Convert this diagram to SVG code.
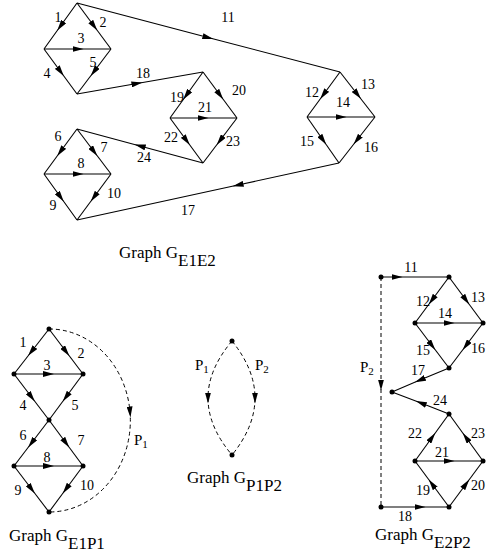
<svg xmlns="http://www.w3.org/2000/svg" width="486" height="554" viewBox="0 0 486 554">
<defs>
<marker id="ah" viewBox="0 0 11 6" refX="5.5" refY="3" markerWidth="11" markerHeight="6" markerUnits="userSpaceOnUse" orient="auto">
<path d="M0,0 L11,3 L0,6 z" fill="#000" stroke="none"/>
</marker>
<style>
.e{fill:none;stroke:#000;stroke-width:1.1;marker-mid:url(#ah)}
.d{fill:none;stroke:#000;stroke-width:1;stroke-dasharray:4,3;marker-mid:url(#ah)}
.l{font-family:"Liberation Serif","Times New Roman",serif;font-size:14px;fill:#000;text-anchor:middle}
.ls{font-family:"Liberation Serif","Times New Roman",serif;font-size:14px;fill:#000}
.p{font-family:"Liberation Serif","Times New Roman",serif;font-size:15px;fill:#000}
.t{font-family:"Liberation Serif","Times New Roman",serif;font-size:17px;fill:#000}
.n{fill:#000}
</style>
</defs>
<rect width="486" height="554" fill="#fff"/>

<!-- Graph G_E1E2 -->
<g id="connectors-e1e2">
<path class="e" d="M77,3 L60.5,26 L44,49"/>
<path class="e" d="M77,3 L94,26 L111,49"/>
<path class="e" d="M44,49 L78,49 L111,49"/>
<path class="e" d="M44,49 L60.5,71.5 L77,94"/>
<path class="e" d="M111,49 L94,71.5 L77,94"/>
<path class="e" d="M77,3 L208,37.5 L340,72"/>
<path class="e" d="M77,94 L137,83.5 L203,72"/>
<path class="e" d="M203,72 L186.5,95 L170,118"/>
<path class="e" d="M203,72 L220,95 L237,118"/>
<path class="e" d="M170,118 L203,118 L237,118"/>
<path class="e" d="M170,118 L186.5,140.5 L203,163"/>
<path class="e" d="M237,118 L220,140.5 L203,163"/>
<path class="e" d="M340,72 L323.5,94.5 L307,117"/>
<path class="e" d="M340,72 L357.5,94.5 L375,117"/>
<path class="e" d="M307,117 L341,117 L375,117"/>
<path class="e" d="M307,117 L323,140 L339,163"/>
<path class="e" d="M375,117 L357,140 L339,163"/>
<path class="e" d="M77,129 L60.5,151.5 L44,174"/>
<path class="e" d="M77,129 L94,151.5 L111,174"/>
<path class="e" d="M44,174 L78,174 L111,174"/>
<path class="e" d="M44,174 L60.5,197 L77,220"/>
<path class="e" d="M111,174 L94,197 L77,220"/>
<path class="e" d="M203,163 L140,146 L77,129"/>
<path class="e" d="M339,163 L238,185 L77,220"/>
</g>
<g id="labels-e1e2">
<text class="l" x="58" y="22">1</text>
<text class="l" x="103" y="27">2</text>
<text class="l" x="81" y="43">3</text>
<text class="l" x="47" y="78">4</text>
<text class="l" x="93" y="67">5</text>
<text class="l" x="143" y="78">18</text>
<text class="l" x="228" y="22">11</text>
<text class="l" x="177" y="102">19</text>
<text class="l" x="239" y="95">20</text>
<text class="l" x="205" y="112">21</text>
<text class="l" x="171" y="142">22</text>
<text class="l" x="233" y="146">23</text>
<text class="l" x="144" y="162">24</text>
<text class="l" x="312" y="97">12</text>
<text class="l" x="368" y="89">13</text>
<text class="l" x="343" y="107">14</text>
<text class="l" x="307" y="146">15</text>
<text class="l" x="371" y="152">16</text>
<text class="l" x="188" y="215">17</text>
<text class="l" x="58" y="141">6</text>
<text class="l" x="104" y="152">7</text>
<text class="l" x="81" y="168">8</text>
<text class="l" x="53" y="210">9</text>
<text class="l" x="114" y="198">10</text>
<text class="t" x="119" y="258">Graph G<tspan dy="8">E1E2</tspan></text>
</g>

<!-- Graph G_E1P1 -->
<g id="connectors-e1p1">
<path class="e" d="M49,329 L31.5,351.5 L14,374"/>
<path class="e" d="M49,329 L66,351.5 L83,374"/>
<path class="e" d="M14,374 L48.5,374 L83,374"/>
<path class="e" d="M14,374 L31.5,397 L49,420"/>
<path class="e" d="M83,374 L66,397 L49,420"/>
<path class="e" d="M49,420 L31.5,443 L14,466"/>
<path class="e" d="M49,420 L66,443 L83,466"/>
<path class="e" d="M14,466 L48.5,466 L83,466"/>
<path class="e" d="M14,466 L31.5,489 L49,512"/>
<path class="e" d="M83,466 L66,489 L49,512"/>
<path class="d" d="M49,329 A81,91.5 0 0 1 130,412 A81,91.5 0 0 1 49,512"/>
</g>
<g id="nodes-e1p1">
<circle class="n" cx="49" cy="329" r="2.5"/>
<circle class="n" cx="14" cy="374" r="2.5"/>
<circle class="n" cx="83" cy="374" r="2.5"/>
<circle class="n" cx="49" cy="420" r="2.5"/>
<circle class="n" cx="14" cy="466" r="2.5"/>
<circle class="n" cx="83" cy="466" r="2.5"/>
<circle class="n" cx="49" cy="512" r="2.5"/>
</g>
<g id="labels-e1p1">
<text class="l" x="23" y="347">1</text>
<text class="l" x="81" y="358">2</text>
<text class="l" x="47" y="370">3</text>
<text class="l" x="23" y="410">4</text>
<text class="l" x="75" y="410">5</text>
<text class="l" x="23" y="440">6</text>
<text class="l" x="81" y="445">7</text>
<text class="l" x="47" y="462">8</text>
<text class="l" x="18" y="495">9</text>
<text class="l" x="87" y="490">10</text>
<text class="p" x="134" y="445">P<tspan font-size="11" dy="3">1</tspan></text>
<text class="t" x="9" y="541">Graph G<tspan dy="8">E1P1</tspan></text>
</g>

<!-- Graph G_P1P2 -->
<g id="connectors-p1p2">
<path class="d" d="M232,341 Q208,369.5 208,398 Q208,426.5 232,455"/>
<path class="d" d="M232,341 Q255,369.5 255,398 Q255,426.5 232,455"/>
</g>
<g id="nodes-p1p2">
<circle class="n" cx="232" cy="341" r="2.5"/>
<circle class="n" cx="232" cy="455" r="2.5"/>
</g>
<g id="labels-p1p2">
<text class="p" x="195" y="370">P<tspan font-size="11" dy="3">1</tspan></text>
<text class="p" x="255" y="370">P<tspan font-size="11" dy="3">2</tspan></text>
<text class="t" x="187" y="483">Graph G<tspan dy="8">P1P2</tspan></text>
</g>

<!-- Graph G_E2P2 -->
<g id="connectors-e2p2">
<path class="d" d="M381,277 L381,385 L381,507"/>
<path class="e" d="M381,277 L397,277 L449,277"/>
<path class="e" d="M449,277 L432,300 L415,323"/>
<path class="e" d="M449,277 L466,300 L483,323"/>
<path class="e" d="M415,323 L449,323 L483,323"/>
<path class="e" d="M415,323 L432,345.5 L449,368"/>
<path class="e" d="M483,323 L466,345.5 L449,368"/>
<path class="e" d="M449,368 L420,380 L392,392"/>
<path class="e" d="M449,414 L421,403 L392,392"/>
<path class="e" d="M415,461 L432,437.5 L449,414"/>
<path class="e" d="M483,461 L466,437.5 L449,414"/>
<path class="e" d="M415,461 L449,461 L483,461"/>
<path class="e" d="M449,507 L432,484 L415,461"/>
<path class="e" d="M449,507 L466,484 L483,461"/>
<path class="e" d="M381,507 L420,507 L449,507"/>
</g>
<g id="nodes-e2p2">
<circle class="n" cx="381" cy="277" r="2.5"/>
<circle class="n" cx="449" cy="277" r="2.5"/>
<circle class="n" cx="415" cy="323" r="2.5"/>
<circle class="n" cx="483" cy="323" r="2.5"/>
<circle class="n" cx="449" cy="368" r="2.5"/>
<circle class="n" cx="392" cy="392" r="2.5"/>
<circle class="n" cx="449" cy="414" r="2.5"/>
<circle class="n" cx="415" cy="461" r="2.5"/>
<circle class="n" cx="483" cy="461" r="2.5"/>
<circle class="n" cx="449" cy="507" r="2.5"/>
<circle class="n" cx="381" cy="507" r="2.5"/>
</g>
<g id="labels-e2p2">
<text class="l" x="411" y="272">11</text>
<text class="l" x="423" y="306">12</text>
<text class="ls" x="471" y="302">13</text>
<text class="l" x="445" y="318">14</text>
<text class="l" x="423" y="355">15</text>
<text class="ls" x="471" y="353">16</text>
<text class="l" x="418" y="375">17</text>
<text class="l" x="440" y="405">24</text>
<text class="l" x="415" y="438">22</text>
<text class="ls" x="471" y="438">23</text>
<text class="l" x="442" y="457">21</text>
<text class="l" x="423" y="495">19</text>
<text class="ls" x="471" y="490">20</text>
<text class="l" x="405" y="521">18</text>
<text class="p" x="360" y="372">P<tspan font-size="11" dy="3">2</tspan></text>
<text class="t" x="375" y="540">Graph G<tspan dy="8">E2P2</tspan></text>
</g>
</svg>
